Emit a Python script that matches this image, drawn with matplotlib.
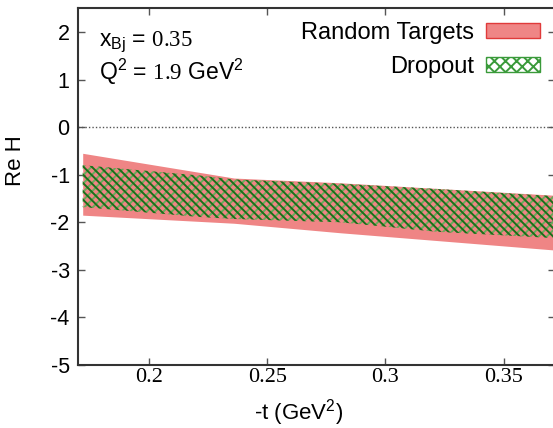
import matplotlib
matplotlib.use("Agg")
import matplotlib.pyplot as plt
from matplotlib.patches import Patch
import numpy as np

plt.rcParams["font.family"] = "Liberation Sans"
plt.rcParams["mathtext.fontset"] = "custom"
plt.rcParams["mathtext.rm"] = "Liberation Sans"
plt.rcParams["mathtext.sf"] = "Liberation Serif"
plt.rcParams["hatch.linewidth"] = 1.4

# Random Targets band (red)
t_red = [0.172, 0.236, 0.281, 0.371]
red_hi = [-0.55, -1.07, -1.17, -1.43]
red_lo = [-1.85, -2.02, -2.22, -2.58]

# Dropout band (green hatch)
t_green = [0.172, 0.222, 0.236, 0.281, 0.322, 0.371]
green_hi = [-0.80, -1.02, -1.10, -1.19, -1.30, -1.45]
green_lo = [-1.68, -1.89, -1.93, -2.00, -2.20, -2.33]

XTICKS = [0.2, 0.25, 0.3, 0.35]
XTICK_LABELS = ["0.2", "0.25", "0.3", "0.35"]
YTICKS = [-5, -4, -3, -2, -1, 0, 1, 2]

RED = "#ef8585"
RED_EDGE = "#e03a3a"
GREEN_DARK = "#1a701a"
GREEN_LIGHT = "#6aaa5a"

fig = plt.figure(figsize=(5.53, 4.28), dpi=100)
ax = fig.add_axes([0.141, 0.147, 0.862, 0.834])

ax.fill_between(t_red, red_lo, red_hi, color=RED, lw=0, zorder=1)
ax.fill_between(t_green, green_lo, green_hi, facecolor="none",
                edgecolor=GREEN_LIGHT, hatch="////", lw=0, zorder=2)
ax.fill_between(t_green, green_lo, green_hi, facecolor="none",
                edgecolor=GREEN_DARK, hatch="\\\\\\\\", lw=0, zorder=3)

ax.axhline(0, color="#555555", ls=(0, (1, 1.5)), lw=1.0, zorder=0)

ax.set_xlim(0.17, 0.3716)
ax.set_ylim(-5, 2.5)
ax.set_xticks(XTICKS)
ax.set_xticklabels(XTICK_LABELS, family="Liberation Serif", fontsize=16)
ax.set_yticks(YTICKS)
ax.set_yticklabels([str(v) for v in YTICKS], fontsize=15.5)
ax.tick_params(direction="in", top=True, right=True, length=5, width=1,
               color="#555555")
ax.tick_params(axis="x", pad=2)
ax.tick_params(axis="y", pad=6)
for s in ax.spines.values():
    s.set_linewidth(1.5)
    s.set_color("#333333")

ax.set_xlabel("-t (GeV$^2$)", fontsize=16)
ax.xaxis.set_label_coords(0.463, -0.09)
ax.set_ylabel("Re H", fontsize=16)
ax.yaxis.set_label_coords(-0.108, 0.574)

# annotations: sans letters, serif numbers
ax.text(0.045, 0.895, "x$_{\\mathrm{Bj}}$ = $\\mathsf{0.35}$",
        transform=ax.transAxes, fontsize=16.5, va="baseline")
ax.text(0.045, 0.80, "Q$^2$ = $\\mathsf{1.9}$ GeV$^2$",
        transform=ax.transAxes, fontsize=16.5, va="baseline")

handles = [
    Patch(facecolor=RED, edgecolor=RED_EDGE, lw=1, label="Random Targets"),
    Patch(facecolor="white", edgecolor="#3a9a3a", hatch="xxx", lw=1, label="Dropout"),
]
ax.legend(handles=handles, loc="upper right", markerfirst=False, frameon=False,
          fontsize=17, handlelength=2.3, handleheight=0.6, handletextpad=0.5,
          labelspacing=0.5, borderaxespad=0.3, borderpad=0.3)

fig.savefig("out.png", dpi=100)
